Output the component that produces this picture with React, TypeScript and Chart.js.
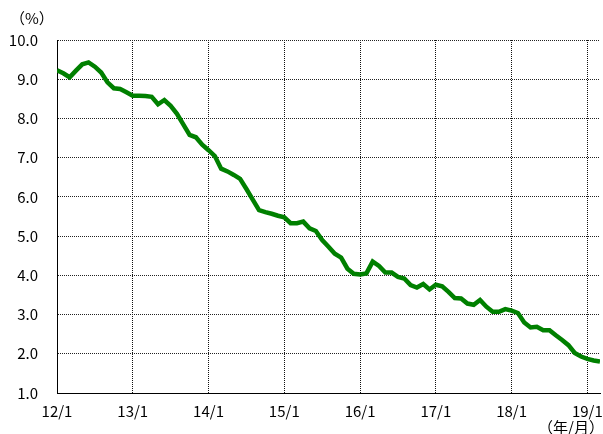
import React, { useEffect, useRef } from "react";
import { Chart, registerables } from "chart.js";

Chart.register(...registerables);

// Monthly values, 2012/1 .. 2019/3 (month index 0..86)
const values: number[] = [
  9.23, 9.15, 9.05, 9.22, 9.38, 9.43, 9.32, 9.17, 8.92, 8.77, 8.75, 8.67,
  8.58, 8.58, 8.57, 8.55, 8.36, 8.47, 8.32, 8.12, 7.85, 7.58, 7.52, 7.33,
  7.19, 7.04, 6.72, 6.65, 6.56, 6.46, 6.2, 5.93, 5.66, 5.61, 5.57, 5.52,
  5.48, 5.33, 5.33, 5.37, 5.2, 5.13, 4.9, 4.73, 4.55, 4.45, 4.17, 4.04,
  4.02, 4.05, 4.35, 4.24, 4.07, 4.07, 3.96, 3.92, 3.75, 3.69, 3.78, 3.64,
  3.76, 3.72, 3.58, 3.42, 3.41, 3.28, 3.25, 3.37, 3.2, 3.07, 3.07, 3.14,
  3.1, 3.04, 2.8, 2.67, 2.69, 2.6, 2.6, 2.47, 2.35, 2.22, 2.02, 1.93,
  1.87, 1.83, 1.8,
];

const xTickLabels: string[] = ["12/1", "13/1", "14/1", "15/1", "16/1", "17/1", "18/1", "19/1"];
const yUnitLabel = "（%）";
const xUnitLabel = "（年/月）";

const FONT = "'Noto Sans CJK JP', 'Noto Sans', sans-serif";

const unitPlugin = {
  id: "unitLabels",
  afterDraw(chart: any) {
    const ctx = chart.ctx;
    ctx.save();
    ctx.fillStyle = "#000";
    ctx.font = `15px ${FONT}`;
    ctx.textBaseline = "middle";
    ctx.textAlign = "left";
    ctx.fillText(yUnitLabel, 10, 18);
    ctx.textAlign = "right";
    ctx.fillText(xUnitLabel, 604, 427);
    ctx.restore();
  },
};

export default function App() {
  const ref = useRef<HTMLCanvasElement | null>(null);
  useEffect(() => {
    if (!ref.current) return;
    const points = values.map((v, i) => ({ x: i, y: v }));
    const chart = new Chart(ref.current, {
      type: "line",
      data: {
        datasets: [
          {
            data: points,
            borderColor: "#008000",
            borderWidth: 4.5,
            pointRadius: 0,
            tension: 0,
            fill: false,
          },
        ],
      },
      options: {
        animation: false,
        responsive: false,
        devicePixelRatio: 1,
        layout: { padding: { top: 40, right: 3, left: 0, bottom: 0 } },
        plugins: { legend: { display: false }, tooltip: { enabled: false } },
        scales: {
          x: {
            type: "linear",
            min: 0,
            max: 86,
            afterFit: (s: any) => {
              s.height = 41;
              s.paddingLeft = 0;
              s.paddingRight = 0;
            },
            ticks: {
              stepSize: 12,
              includeBounds: false,
              autoSkip: false,
              maxRotation: 0,
              padding: 9,
              color: "#000",
              font: { family: FONT, size: 15 },
              callback: (v: any) => xTickLabels[Math.round(Number(v) / 12)] ?? "",
            },
            grid: { color: "#111", lineWidth: 1, drawTicks: false },
            border: { display: true, color: "#000", width: 1, dash: [1, 1] },
          },
          y: {
            type: "linear",
            min: 1,
            max: 10,
            afterFit: (s: any) => {
              s.width = 57;
              s.paddingTop = 0;
              s.paddingBottom = 0;
            },
            ticks: {
              stepSize: 1,
              padding: 19,
              color: "#000",
              font: { family: FONT, size: 15 },
              callback: (v: any) => Number(v).toFixed(1),
            },
            grid: { color: "#222", lineWidth: 1, drawTicks: false },
            border: { display: true, color: "#000", width: 1, dash: [1, 1] },
          },
        },
      },
      plugins: [unitPlugin],
    });
    return () => chart.destroy();
  }, []);
  return (
    <div style={{ position: "absolute", left: 0, top: 0, width: 603, height: 434, background: "#fff" }}>
      <canvas ref={ref} width={603} height={434} style={{ display: "block" }} />
    </div>
  );
}
